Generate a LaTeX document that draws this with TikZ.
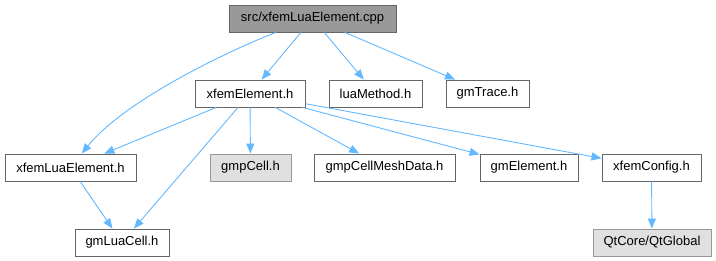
\documentclass[tikz,border=0pt]{standalone}
\usepackage{fontspec}
\setmainfont{Liberation Sans}
\usetikzlibrary{arrows.meta}
\definecolor{edgeblue}{HTML}{63B8FF}
\begin{document}
\begin{tikzpicture}[x=1pt,y=-1pt,
        file/.style={draw=black!60,fill=white,line width=0.9pt,minimum height=27pt,inner sep=0pt,font=\fontsize{13}{15}\selectfont},
        rootfile/.style={file,fill=black!40},
        sysfile/.style={file,draw=black!40,fill=black!12},
        dep/.style={edgeblue,line width=0.9pt,-{Triangle[length=10pt,width=8pt]}}]
        \useasboundingbox (0,0) rectangle (716,261);
        \node[rootfile,minimum width=167pt] (root) at (312.5,18.5) {src/xfemLuaElement.cpp};
        \node[file,minimum width=110pt] (xel) at (250,93.5) {xfemElement.h};
        \node[file,minimum width=93pt] (lua) at (375.5,93.5) {luaMethod.h};
        \node[file,minimum width=83pt] (trace) at (487.5,93.5) {gmTrace.h};
        \node[file,minimum width=131pt] (xlua) at (70.5,167.5) {xfemLuaElement.h};
        \node[sysfile,minimum width=81pt] (cell) at (250.5,167.5) {gmpCell.h};
        \node[file,minimum width=141pt] (mesh) at (384.5,167.5) {gmpCellMeshData.h};
        \node[file,minimum width=98pt] (gmel) at (529,167.5) {gmElement.h};
        \node[file,minimum width=99pt] (conf) at (651.5,167.5) {xfemConfig.h};
        \node[file,minimum width=94pt] (luacell) at (122,242.5) {gmLuaCell.h};
        \node[sysfile,minimum width=118pt] (qt) at (652,242.5) {QtCore/QtGlobal};
        \draw[dep] (root) -- (xel);
        \draw[dep] (root) -- (lua);
        \draw[dep] (root) -- (trace);
        \draw[dep] (root) .. controls (230,50) and (125,100) .. (xlua);
        \draw[dep] (xel) -- (xlua);
        \draw[dep] (xel) -- (luacell);
        \draw[dep] (xel) -- (cell);
        \draw[dep] (xel) -- (mesh);
        \draw[dep] (xel) -- (gmel);
        \draw[dep] (xel) -- (conf);
        \draw[dep] (xlua) -- (luacell);
        \draw[dep] (conf) -- (qt);
    \end{tikzpicture}
\end{document}
